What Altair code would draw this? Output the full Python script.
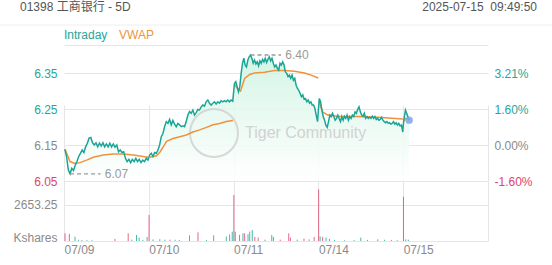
import altair as alt
import pandas as pd

# ---------------- colours / fonts ----------------
TEAL = "#1ba596"
LABEL_TEAL = "#26a69a"
ORANGE = "#f0923b"
RED = "#e0446b"
GRAY = "#8a8a8a"
GRID = "#e6e6e6"
FONT = "Liberation Sans, Arial, Noto Sans CJK SC, sans-serif"

# ---------------- texts ----------------
title_text = "01398 工商银行 - 5D"
stamp_text = "2025-07-15\u00a0 09:49:50"
legend_names = ["Intraday", "VWAP"]
day_labels = ["07/09", "07/10", "07/11", "07/14", "07/15"]
price_ticks = [6.05, 6.15, 6.25, 6.35]
pct_labels = ["-1.60%", "0.00%", "1.60%", "3.21%"]
vol_tick = 2653.25
vol_tick_label = "2653.25"
vol_unit = "Kshares"
watermark = "Tiger Community"

# ---------------- intraday price (per day) ----------------
day1_price = [6.138, 6.118, 6.081, 6.070, 6.085, 6.079, 6.094, 6.104, 6.118, 6.127,
              6.136, 6.129, 6.145, 6.155, 6.169, 6.171, 6.156, 6.150, 6.156, 6.145,
              6.155, 6.147, 6.156, 6.145, 6.153, 6.145, 6.155, 6.145, 6.153, 6.144,
              6.150, 6.131, 6.136, 6.129, 6.131, 6.113, 6.104, 6.110, 6.101, 6.110,
              6.104, 6.113, 6.104, 6.110, 6.101, 6.108, 6.104, 6.113, 6.108]
day2_price = [6.122, 6.127, 6.118, 6.129, 6.127, 6.136, 6.150, 6.173, 6.182, 6.201,
              6.215, 6.210, 6.221, 6.206, 6.218, 6.208, 6.201, 6.210, 6.206, 6.201,
              6.203, 6.201, 6.215, 6.233, 6.243, 6.238, 6.247, 6.233, 6.240, 6.249,
              6.247, 6.256, 6.261, 6.258, 6.270, 6.275, 6.266, 6.261, 6.266, 6.270,
              6.264, 6.270, 6.266, 6.273, 6.270, 6.273, 6.270, 6.275, 6.270, 6.275,
              6.272]
day3_price = [6.321, 6.326, 6.312, 6.298, 6.312, 6.349, 6.377, 6.391, 6.372, 6.367,
              6.386, 6.395, 6.400, 6.391, 6.377, 6.386, 6.375, 6.381, 6.370, 6.384,
              6.377, 6.388, 6.381, 6.391, 6.379, 6.388, 6.395, 6.384, 6.391, 6.377,
              6.367, 6.372, 6.363, 6.358, 6.377, 6.372, 6.381, 6.372, 6.353, 6.349,
              6.340, 6.344, 6.335, 6.344, 6.330, 6.335, 6.316, 6.307, 6.302, 6.293,
              6.284, 6.289, 6.277, 6.279, 6.270, 6.275, 6.266, 6.270, 6.261, 6.261,
              6.252, 6.233, 6.215]
day4_price = [6.279, 6.270, 6.247, 6.229, 6.219, 6.205, 6.199, 6.215, 6.233, 6.229,
              6.238, 6.229, 6.219, 6.224, 6.233, 6.224, 6.215, 6.229, 6.219, 6.230,
              6.224, 6.233, 6.219, 6.229, 6.224, 6.233, 6.229, 6.242, 6.238, 6.249,
              6.256, 6.242, 6.233, 6.230, 6.238, 6.224, 6.229, 6.224, 6.227, 6.224,
              6.230, 6.224, 6.229, 6.221, 6.224, 6.219, 6.221, 6.227, 6.219, 6.215,
              6.212, 6.215, 6.210, 6.212, 6.208, 6.210, 6.215, 6.208, 6.212, 6.205,
              6.210, 6.203, 6.205, 6.186]
day5_price = [6.216, 6.247, 6.233, 6.219]
price_days = [day1_price, day2_price, day3_price, day4_price, day5_price]
# fraction of each trading day covered (start, end)
day_span = [(0.01, 0.99), (0.01, 0.99), (0.01, 0.99), (0.01, 0.995), (0.005, 0.07)]

# ---------------- VWAP (fraction of day, value) ----------------
vwap_f = [
    [0.012, 0.071, 0.129, 0.188, 0.267, 0.345, 0.463, 0.580, 0.698, 0.816, 0.933, 0.992],
    [0.012, 0.09, 0.13, 0.17, 0.21, 0.286, 0.365, 0.443, 0.52, 0.60, 0.68, 0.757, 0.835, 0.914, 0.992],
    [0.012, 0.05, 0.082, 0.13, 0.19, 0.247, 0.365, 0.482, 0.60, 0.718, 0.835, 0.914, 0.998],
    [0.012, 0.03, 0.05, 0.11, 0.227, 0.46, 0.70, 0.996],
    [0.005, 0.03, 0.07],
]
vwap_v = [
    [6.138, 6.104, 6.099, 6.101, 6.108, 6.116, 6.122, 6.125, 6.125, 6.122, 6.118, 6.116],
    [6.116, 6.120, 6.130, 6.145, 6.160, 6.168, 6.173, 6.178, 6.186, 6.192, 6.199, 6.206, 6.210, 6.215, 6.218],
    [6.318, 6.305, 6.300, 6.335, 6.346, 6.350, 6.352, 6.357, 6.357, 6.355, 6.350, 6.344, 6.336],
    [6.270, 6.255, 6.242, 6.233, 6.230, 6.229, 6.227, 6.222],
    [6.216, 6.224, 6.221],
]

# ---------------- volume bars (day position, Kshares, direction) ----------------
vol_t = [0.012, 0.063, 0.13, 0.17, 0.21, 0.27, 0.33, 0.60, 0.757, 0.80, 0.855, 0.886, 0.93, 0.98,
         1.003, 1.05, 1.13, 1.19, 1.25, 1.31, 1.36, 1.48, 1.58, 1.68, 1.765, 1.914, 1.953, 1.984,
         2.003, 2.02, 2.07, 2.11, 2.13, 2.17, 2.19, 2.22, 2.25, 2.29, 2.37, 2.45, 2.47, 2.55, 2.65,
         2.67, 2.75, 2.83, 2.89, 2.95,
         3.003, 3.02, 3.05, 3.09, 3.13, 3.19, 3.31, 3.42, 3.50, 3.58, 3.70, 3.78, 3.86, 3.93,
         4.003, 4.03, 4.06]
vol_v = [567, 520, 320, 90, 70, 60, 60, 150, 570, 100, 440, 250, 80, 300,
         1916, 120, 130, 100, 100, 90, 80, 420, 640, 80, 420, 330, 480, 690,
         3390, 690, 450, 567, 567, 500, 690, 810, 300, 250, 100, 440, 300, 100, 570,
         250, 100, 180, 120, 300,
         3810, 350, 300, 250, 150, 80, 60, 70, 250, 80, 120, 90, 80, 60,
         3265, 120, 100]
vol_dir = ["down", "down", "up", "up", "up", "up", "up", "down", "down", "up", "up", "up", "up", "up",
           "down", "up", "up", "up", "down", "up", "up", "up", "down", "up", "up", "up", "up", "up",
           "down", "up", "down", "up", "down", "up", "up", "up", "down", "down", "up", "up", "up", "down", "down",
           "down", "up", "down", "up", "down",
           "down", "up", "down", "up", "down", "up", "up", "up", "up", "down", "up", "up", "down", "up",
           "down", "up", "up"]

# ---------------- build tables ----------------
rows = []
for d, (vals, (f0, f1)) in enumerate(zip(price_days, day_span)):
    n = len(vals)
    for i, v in enumerate(vals):
        rows.append({"t": d + f0 + (f1 - f0) * i / (n - 1), "p": v, "day": d})
price_df = pd.DataFrame(rows)

vrows = []
for d, (fs, vs) in enumerate(zip(vwap_f, vwap_v)):
    for f, v in zip(fs, vs):
        vrows.append({"t": d + f, "v": v, "day": d})
vwap_df = pd.DataFrame(vrows)

vol_df = pd.DataFrame({"t": vol_t, "vol": vol_v, "dir": vol_dir})

lo_i = price_df["p"].idxmin()
hi_i = price_df["p"].idxmax()
ann_df = pd.DataFrame({
    "t": [price_df.loc[lo_i, "t"], price_df.loc[hi_i, "t"]],
    "p": [price_df.loc[lo_i, "p"], price_df.loc[hi_i, "p"]],
})
ann_df["t2"] = ann_df["t"] + 0.36
ann_df["tx"] = ann_df["t"] + 0.41
ann_df["label"] = ann_df["p"].map(lambda v: f"{v:.2f}")

last_df = price_df.tail(1)

# ---------------- scales & axes ----------------
PTOP = 6.05 + 136 / 360.0
VTOP = 4422.0

xscale = alt.Scale(domain=[0, 5], nice=False, zero=False)
x_labels_js = "[" + ",".join(f"'{s}'" for s in day_labels + [""]) + "]"
xaxis = alt.Axis(values=[0, 1, 2, 3, 4, 5], labelExpr=f"{x_labels_js}[round(datum.value)]",
                 labelAlign="left", labelBaseline="top", labelPadding=3, labelFontSize=12,
                 labelColor=GRAY, labelFont=FONT, grid=True, gridColor=GRID, ticks=False,
                 domain=False, title=None, labelFlush=False, labelOverlap=False)


def X(field="t"):
    return alt.X(f"{field}:Q", scale=xscale, axis=xaxis)


pscale = alt.Scale(domain=[6.05, PTOP], range=[136, 0], nice=False, zero=False)
vscale = alt.Scale(domain=[0, VTOP], range=[196, 136], nice=False, zero=False)

color_cond = {"condition": [{"test": "datum.value > 6.2", "value": LABEL_TEAL},
                            {"test": "datum.value < 6.1", "value": RED}],
              "value": GRAY}

price_axis = alt.Axis(values=price_ticks + [PTOP],
                      labelExpr="datum.value > 6.4 ? '' : format(datum.value, '.2f')",
                      labelColor=color_cond, grid=True, gridColor=GRID, ticks=False, domain=False,
                      labelPadding=7, title=None, labelFontSize=12, labelFont=FONT, orient="left",
                      labelOverlap=False)

pct_expr = "''"
for v, s in zip(price_ticks, pct_labels):
    pct_expr = f"abs(datum.value - {v}) < 0.001 ? '{s}' : " + pct_expr
pct_axis = alt.Axis(values=price_ticks, labelExpr=pct_expr, labelColor=color_cond, grid=False,
                    ticks=False, domain=False, labelPadding=6, title=None, labelFontSize=12,
                    labelFont=FONT, orient="right", labelOverlap=False)

vol_axis = alt.Axis(values=[0, vol_tick],
                    labelExpr=f"datum.value == 0 ? '{vol_unit}' : '{vol_tick_label}'",
                    labelColor=GRAY, grid=True, gridColor=GRID, ticks=False, domain=False,
                    labelPadding=7, title=None, labelFontSize=12, labelFont=FONT, orient="left",
                    labelOverlap=False,
                    labelBaseline={"condition": {"test": "datum.value == 0", "value": "alphabetic"},
                                   "value": "middle"})

# ---------------- layers ----------------
gradient = alt.Gradient(gradient="linear",
                        stops=[alt.GradientStop(color="#cdf3e1", offset=0),
                               alt.GradientStop(color="#ffffff", offset=1)],
                        x1=0, x2=0, y1=0, y2=1)

area = alt.Chart(price_df).mark_area(color=gradient, opacity=0.85).encode(
    x=X(), y=alt.Y("p:Q", scale=pscale, axis=None), y2=alt.datum(6.05))

one = pd.DataFrame({"k": [0]})
wm_circle = alt.Chart(one).mark_point(shape="circle", filled=False, size=2300, color="#d4d4d4",
                                      strokeWidth=2, opacity=0.9).encode(
    x=alt.value(150), y=alt.value(88))
wm_text = alt.Chart(pd.DataFrame({"s": [watermark]})).mark_text(
    align="left", baseline="middle", fontSize=16, color="#d2d2d2", font=FONT).encode(
    x=alt.value(181), y=alt.value(88), text="s:N")

vol = alt.Chart(vol_df).mark_rule(strokeWidth=1, opacity=0.8).encode(
    x=X(), y=alt.Y("vol:Q", scale=vscale, axis=vol_axis), y2=alt.datum(0),
    color=alt.Color("dir:N", scale=alt.Scale(domain=["up", "down"], range=[TEAL, RED]), legend=None))

vwap = alt.Chart(vwap_df).mark_line(color=ORANGE, strokeWidth=1.5).encode(
    x=X(), y=alt.Y("v:Q", scale=pscale, axis=pct_axis), detail="day:N")

line = alt.Chart(price_df).mark_line(color=TEAL, strokeWidth=1.5).encode(
    x=X(), y=alt.Y("p:Q", scale=pscale, axis=price_axis))

ann_rule = alt.Chart(ann_df).mark_rule(strokeDash=[4, 3], color="#9a9a9a", strokeWidth=1.3).encode(
    x=X(), x2="t2:Q", y=alt.Y("p:Q", scale=pscale, axis=None))
ann_text = alt.Chart(ann_df).mark_text(align="left", baseline="middle", fontSize=12,
                                       color="#9a9a9a", font=FONT).encode(
    x=X("tx"), y=alt.Y("p:Q", scale=pscale, axis=None), text="label:N")

dot = alt.Chart(last_df).mark_circle(size=55, color="#7ea6ea", opacity=0.85).encode(
    x=X(), y=alt.Y("p:Q", scale=pscale, axis=None))

hdr_line = alt.Chart(one).mark_rule(color="#eeeeee", strokeWidth=1).encode(
    x=alt.value(-64), x2=alt.value(488), y=alt.value(-20))
title = alt.Chart(pd.DataFrame({"s": [title_text]})).mark_text(
    align="left", baseline="middle", fontSize=12, color="#555555", font=FONT).encode(
    x=alt.value(-44), y=alt.value(-38), text="s:N")
stamp = alt.Chart(pd.DataFrame({"s": [stamp_text]})).mark_text(
    align="right", baseline="middle", fontSize=12, color="#555555", font=FONT).encode(
    x=alt.value(473), y=alt.value(-38), text="s:N")
leg1 = alt.Chart(pd.DataFrame({"s": [legend_names[0]]})).mark_text(
    align="left", baseline="middle", fontSize=12, color=LABEL_TEAL, font=FONT).encode(
    x=alt.value(0), y=alt.value(-10), text="s:N")
leg2 = alt.Chart(pd.DataFrame({"s": [legend_names[1]]})).mark_text(
    align="left", baseline="middle", fontSize=12, color=ORANGE, font=FONT).encode(
    x=alt.value(55), y=alt.value(-10), text="s:N")

chart = alt.layer(
    area, wm_circle, wm_text, vol, vwap, line, ann_rule, ann_text, dot,
    hdr_line, title, stamp, leg1, leg2
).resolve_scale(y="independent").properties(
    width=424, height=196,
    padding={"left": 64, "top": 45, "right": 64, "bottom": 24},
    autosize=alt.AutoSizeParams(type="none"),
    background="white",
).configure_view(stroke=None)

chart.save("out.html", embed_options={"renderer": "svg", "actions": False})
